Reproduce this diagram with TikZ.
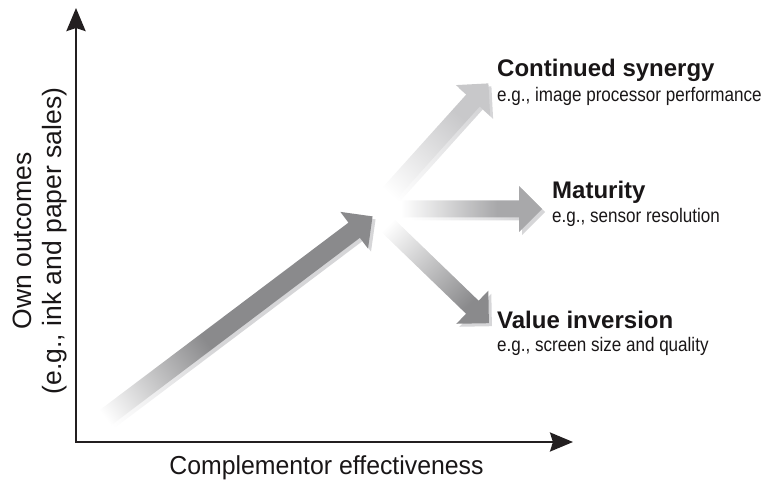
\documentclass[tikz,border=0pt]{standalone}
\usepackage{fontspec}
\setmainfont{Liberation Sans}
\newfontfamily\subfont[FakeStretch=0.87]{Liberation Sans}
\newfontfamily\xlabfont[FakeStretch=0.955]{Liberation Sans}
\usetikzlibrary{arrows.meta}
\definecolor{axisc}{RGB}{35,31,32}
\definecolor{mainc}{RGB}{138,138,140}
\definecolor{upc}{RGB}{200,200,202}
\definecolor{midc}{RGB}{168,168,170}
\definecolor{lowc}{RGB}{138,138,140}
\definecolor{shadc}{RGB}{214,214,216}
\definecolor{textc}{RGB}{25,22,23}
\pgfdeclarehorizontalshading{mainsh}{100bp}{color(0bp)=(white); color(25bp)=(white); color(44bp)=(mainc); color(100bp)=(mainc)}
\pgfdeclarehorizontalshading{mainshad}{100bp}{color(0bp)=(white); color(25bp)=(white); color(44bp)=(shadc); color(100bp)=(shadc)}
\pgfdeclarehorizontalshading{upsh}{100bp}{color(0bp)=(white); color(30bp)=(white); color(62bp)=(upc); color(100bp)=(upc)}
\pgfdeclarehorizontalshading{midsh}{100bp}{color(0bp)=(white); color(28bp)=(white); color(60bp)=(midc); color(100bp)=(midc)}
\pgfdeclarehorizontalshading{lowsh}{100bp}{color(0bp)=(white); color(28bp)=(white); color(66bp)=(lowc); color(100bp)=(lowc)}
\pgfdeclarehorizontalshading{sidesh}{100bp}{color(0bp)=(white); color(30bp)=(white); color(66bp)=(shadc); color(100bp)=(shadc)}
% x, y, angle, length, shaft half width, shading
\newcommand{\fatarrow}[6]{%
  \begin{scope}[transform canvas={shift={(#1,#2)},rotate=#3}]
    \shade[shading=#6] (0,-#5) -- ({#4-23},-#5) -- ({#4-23},-23) -- (#4,0)
      -- ({#4-23},23) -- ({#4-23},#5) -- (0,#5) -- cycle;
  \end{scope}}
\begin{document}
\begin{tikzpicture}[x=1pt,y=-1pt,
  axis/.style={draw=axisc, line width=2.6pt, line join=miter,
    {Stealth[length=23pt,width=19pt,inset=3pt]}-{Stealth[length=23pt,width=19pt,inset=3pt]}},
  title/.style={font=\bfseries\fontsize{24}{28}\selectfont, text=textc, inner sep=0pt, anchor=base west},
  sub/.style={font=\subfont\fontsize{19.6}{22}\selectfont, text=textc, inner sep=0pt, anchor=base west},
  xlab/.style={font=\xlabfont\fontsize{26}{30}\selectfont, text=textc, inner sep=0pt, anchor=base},
  ylab/.style={font=\fontsize{26.5}{30}\selectfont, text=textc, inner sep=0pt, anchor=base, rotate=90}]
\useasboundingbox (0,0) rectangle (769,481);
% shadows
\fatarrow{108}{421}{37}{335}{9.5}{mainshad}
\fatarrow{381}{209}{48}{165}{9}{sidesh}
\fatarrow{395}{212}{0}{150}{8.5}{sidesh}
\fatarrow{384}{222}{-44}{150}{9}{sidesh}
% arrows
\fatarrow{378}{206}{48}{165}{9}{upsh}
\fatarrow{392}{209}{0}{150}{8.5}{midsh}
\fatarrow{381}{219}{-44}{150}{9}{lowsh}
\fatarrow{105}{418}{37}{335}{9.5}{mainsh}
% axes
\coordinate (O) at (76,442);
\coordinate (ytip) at (76,8);
\coordinate (xtip) at (573,442);
\draw[axis] (ytip) -- (O) -- (xtip);
% labels
\node[xlab] (xl) at (326.5,474) {Complementor effectiveness};
\node[ylab] (yl1) at (31,241) {Own outcomes};
\node[ylab] (yl2) at (61,241) {(e.g., ink and paper sales)};
\node[title] (cs) at (497,76.7) {Continued synergy};
\node[sub] (csx) at (497,101.5) {e.g., image processor performance};
\node[title] (ma) at (552,198.7) {Maturity};
\node[sub] (max) at (552,223) {e.g., sensor resolution};
\node[title] (vi) at (497,329) {Value inversion};
\node[sub] (vix) at (497,351.5) {e.g., screen size and quality};
\end{tikzpicture}
\end{document}
